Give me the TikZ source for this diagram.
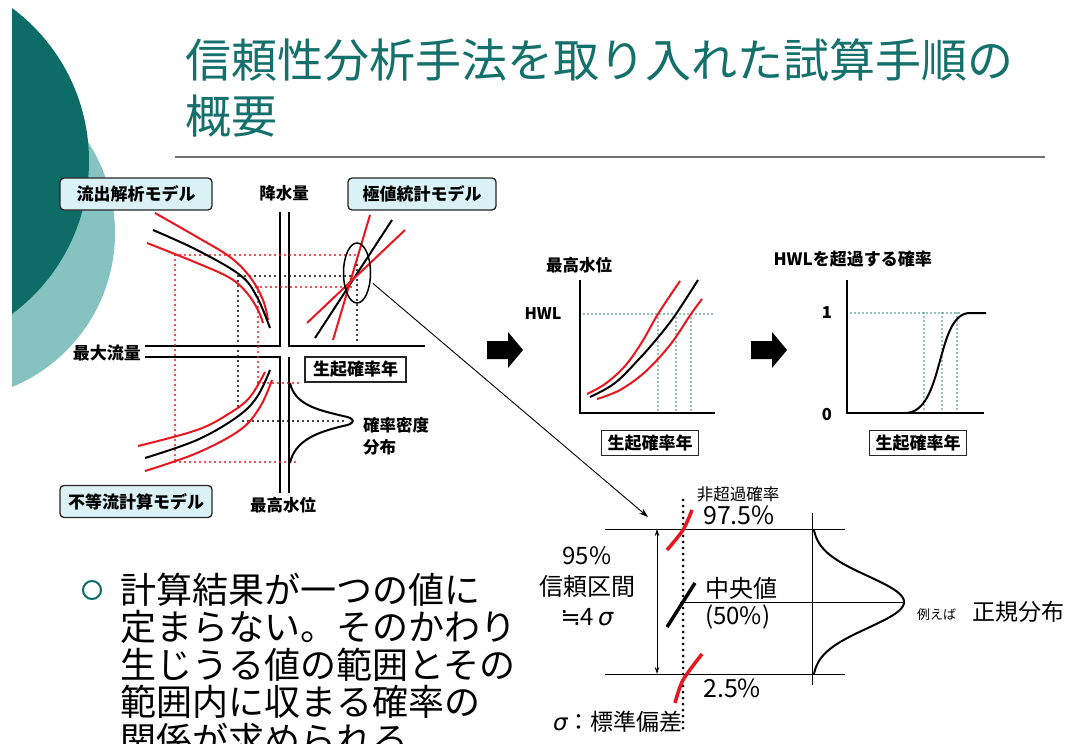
\documentclass[tikz,border=0pt]{standalone}
\usepackage{fontspec}
\setmainfont{Noto Sans CJK JP}
\newfontfamily\dejavu{DejaVu Sans}
\usetikzlibrary{shapes.geometric,arrows.meta}
\definecolor{tealdark}{RGB}{14,108,102}
\definecolor{teallight}{RGB}{134,195,192}
\definecolor{ttl}{RGB}{20,112,106}
\definecolor{boxfill}{RGB}{218,241,246}
\definecolor{rd}{RGB}{232,22,30}
\definecolor{gdot}{RGB}{40,135,120}
\newcommand{\fs}[1]{\fontsize{#1}{#1}\selectfont}
\newcommand{\sig}{{\dejavu\itshape σ}}
\begin{document}
\begin{tikzpicture}[x=1pt,y=-1pt,
  lbl/.style={font=\bfseries\fs{16.5}, inner sep=0pt},
  mbox/.style={draw=black!85, line width=1.3pt, rounded corners=4pt, fill=boxfill,
     minimum width=152pt, minimum height=32pt, inner sep=0pt, font=\bfseries\fs{17}},
  ybox/.style={draw=black!85, line width=1.5pt, minimum width=97pt, minimum height=25pt,
     inner sep=0pt, font=\bfseries\fs{17}},
  ax/.style={line width=2.4pt},
  crvK/.style={line width=2pt},
  crvR/.style={rd, line width=2pt},
  dotK/.style={line width=2.4pt, dash pattern=on 0pt off 5pt, line cap=round},
  dotR/.style={rd, line width=2.4pt, dash pattern=on 0pt off 5pt, line cap=round},
  dotG/.style={gdot, line width=1.8pt, dash pattern=on 0pt off 4pt, line cap=round},
  hair/.style={line width=0.9pt},
  txt/.style={inner sep=0pt, font=\fs{24}},
  body/.style={inner sep=0pt, anchor=base west, font=\fs{36}},
  blockarrow/.style={fill=black}
]
\clip (0,0) rectangle (1069,744);
\fill[white] (0,0) rectangle (1069,744);
% background circles (slide edge at x=12)
\begin{scope}
\clip (12,0) rectangle (300,744);
\fill[teallight] (-51.6,233) circle[radius=166.6];
\fill[tealdark] (-101.5,161) circle[radius=190.5];
\end{scope}

% title
\node[inner sep=0pt, anchor=base west, text=ttl, font=\fs{46}] (title1) at (185,77.5) {信頼性分析手法を取り入れた試算手順の};
\node[inner sep=0pt, anchor=base west, text=ttl, font=\fs{46}] (title2) at (185,133.5) {概要};
\draw[line width=2pt, black!55] (175,157) -- (1045,157);

% ===== left diagram =====
\node[mbox] (runoff) at (136,194) {流出解析モデル};
\node[mbox, minimum width=148pt] (extreme) at (422,194) {極値統計モデル};
\node[mbox] (nonuni) at (136,501.5) {不等流計算モデル};

\draw[ax] (280,212) -- (280,346) -- (145,346);
\draw[ax] (289,212) -- (289,346) -- (425,346);
\draw[ax] (145,357) -- (280,357) -- (280,493);
\draw[ax] (289,357) -- (289,493);

\node[lbl] (rain) at (284,193) {降水量};
\node[lbl, anchor=east, font=\bfseries\fs{17}] (qmax) at (141,353) {最大流量};
\node[lbl] (hmax) at (283,505) {最高水位};
\node[ybox, minimum width=101pt] (occ0) at (355.5,369.5) {生起確率年};
\node[lbl, anchor=west] (pdf1) at (363,425) {確率密度};
\node[lbl, anchor=west] (pdf2) at (363,447) {分布};

% dotted guides
\draw[dotR] (175,255) -- (358,255);
\draw[dotK] (240,276) -- (353,276);
\draw[dotR] (256,287) -- (353,287);
\draw[dotK] (357,260) -- (357,340);
\draw[dotK] (238,276) -- (238,410);
\draw[dotR] (258,287) -- (258,383);
\draw[dotR] (175,255) -- (175,462);
\draw[dotR] (258,383) -- (298,383);
\draw[dotK] (243,421) -- (347,421);
\draw[dotR] (175,462) -- (298,462);

% top-left curves
\draw[crvR] plot[smooth, tension=0.6] coordinates {(155,213) (197,237) (230,257) (250,277) (263,300) (268,320)};
\draw[crvK] plot[smooth, tension=0.6] coordinates {(153,230) (197,250) (240,275) (257,297) (270,328)};
\draw[crvR] plot[smooth, tension=0.6] coordinates {(147,243) (197,263) (230,278) (247,293) (258,310) (263,323)};
% bottom-left curves
\draw[crvR] plot[smooth, tension=0.6] coordinates {(138,446) (197,430) (230,413) (250,397) (265,372)};
\draw[crvK] plot[smooth, tension=0.6] coordinates {(145,458) (197,440) (237,417) (257,397) (270,370)};
\draw[crvR] plot[smooth, tension=0.6] coordinates {(145,471) (197,453) (240,430) (260,407) (272,380)};
% top-right lines
\draw[crvK] (315,338) -- (392,220);
\draw[crvR] (333,340) -- (370,215);
\draw[crvR] (307,323) -- (405,230);
\node[draw, ellipse, line width=1.5pt, minimum width=27pt, minimum height=60pt, inner sep=0pt] (ell) at (357,273) {};
% density
\draw[line width=2pt] (290,383) .. controls (295,405) and (318,410) .. (343,416)
   .. controls (356,418) and (356,424) .. (343,426)
   .. controls (318,432) and (295,440) .. (290,463);

% ===== block arrows =====
\fill[blockarrow] (487,341) -- (508,341) -- (508,332) -- (523,350) -- (508,368) -- (508,359) -- (487,359) -- cycle;
\fill[blockarrow] (751,341) -- (772,341) -- (772,332) -- (787,350) -- (772,368) -- (772,359) -- (751,359) -- cycle;

% ===== graph 1 =====
\node[lbl] (g1title) at (579,265) {最高水位};
\node[lbl, font=\bfseries\fs{16}] (hwl) at (543,314) {HWL};
\draw[dotG] (580,314) -- (715,314);
\draw[dotG] (658,314) -- (658,413);
\draw[dotG] (676,314) -- (676,413);
\draw[dotG] (691,314) -- (691,413);
\draw[crvR] plot[smooth, tension=0.6] coordinates {(587,394) (605,384) (625,366) (642,342) (658,314) (680,281)};
\draw[crvK] plot[smooth, tension=0.6] coordinates {(590,397) (615,383) (640,358) (660,335) (676,314) (698,280)};
\draw[crvR] plot[smooth, tension=0.6] coordinates {(597,399) (620,390) (645,372) (670,345) (691,314) (702,299)};
\draw[ax] (580,280) -- (580,413) -- (715,413);
\node[ybox] (occ1) at (650,443) {生起確率年};

% ===== graph 2 =====
\node[lbl, anchor=east, font=\bfseries\fs{17}] (g2title) at (932,259) {HWLを超過する確率};
\node[lbl] (one) at (827,313) {1};
\node[lbl] (zero) at (827,415) {0};
\draw[dotG] (847,313) -- (962,313);
\draw[dotG] (924,313) -- (924,413);
\draw[dotG] (942,313) -- (942,413);
\draw[dotG] (957,313) -- (957,413);
\draw[line width=2pt] (905,413) .. controls (945,413) and (935,313) .. (970,313) -- (986,313);
\draw[ax] (847,280) -- (847,413) -- (984,413);
\node[ybox] (occ2) at (918,443) {生起確率年};

% ===== bottom right =====
\coordinate (tip) at (648,517);
\draw[hair, -{Stealth[length=9pt,width=6pt]}, shorten <=3pt] (ell.-32) -- (tip);

\draw[hair] (605,529) -- (845,529);
\draw[hair] (605,674) -- (845,674);
\draw[hair] (680,602) -- (905,602);
\draw[hair] (812,513) -- (812,685);
\draw[hair, {Stealth[length=7pt,width=4.5pt]}-{Stealth[length=7pt,width=4.5pt]}] (657,529) -- (657,674);
\draw[line width=3pt, dash pattern=on 0pt off 6pt, line cap=round] (683,500) -- (683,728);
\draw[rd, line width=3.5pt] plot[smooth] coordinates {(667,550) (683,530) (692,510)};
\draw[line width=3.5pt] (667,627) -- (695,583);
\draw[rd, line width=3.5pt] plot[smooth] coordinates {(675,703) (683,680) (702,654)};
\draw[line width=2pt] plot[domain=529:674, samples=90, smooth] ({812+92*exp(-0.5*((\x-602)/26)*((\x-602)/26))},\x);

\node[inner sep=0pt, font=\fs{16.5}] (nonexc) at (738,494) {非超過確率};
\node[txt, anchor=west, font=\fs{25}] (p975) at (703,515) {97.5\%};
\node[txt] (ci1) at (587,556) {95\%};
\node[txt] (ci2) at (587,586) {信頼区間};
\node[txt] (ci3) at (587,617) {{\dejavu ≒}4\,\sig};
\node[txt, anchor=west] (med1) at (705,588) {中央値};
\node[txt, anchor=west] (med2) at (705,617) {(50\%)};
\node[txt, anchor=west, font=\fs{25}] (p25) at (703,688) {2.5\%};
\node[txt, anchor=west, font=\fs{23}] (sig) at (553,722) {\sig：標準偏差};
\node[txt, anchor=west, font=\fs{13}] (eg) at (917,615) {例えば};
\node[txt, anchor=west, font=\fs{23}] (normal) at (972,612) {正規分布};

% ===== bullet text =====
\node[circle, draw=tealdark, line width=2pt, minimum size=18pt, inner sep=0pt] (bul) at (92,590) {};
\node[body] (b1) at (120,603) {計算結果が一つの値に};
\node[body] (b2) at (120,640.5) {定まらない。そのかわり};
\node[body] (b3) at (120,678) {生じうる値の範囲とその};
\node[body] (b4) at (120,715.5) {範囲内に収まる確率の};
\node[body] (b5) at (120,753) {関係が求められる。};
\end{tikzpicture}
\end{document}
